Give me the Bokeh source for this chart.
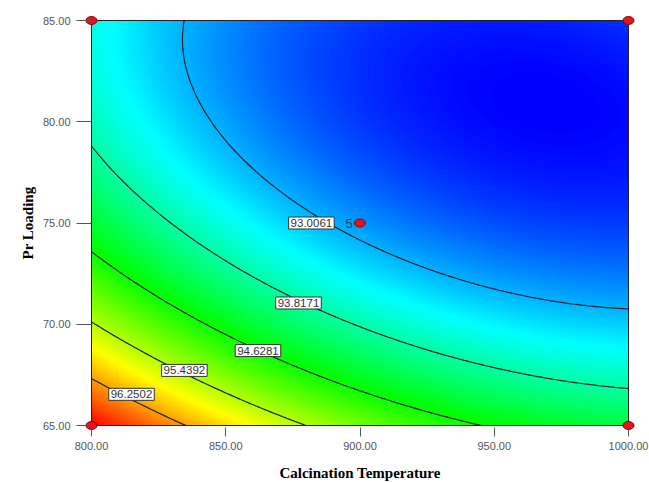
import numpy as np
from bokeh.plotting import figure
from bokeh.models import LinearColorMapper, Label, FixedTicker, NumeralTickFormatter, Range1d
from bokeh.embed import file_html
from bokeh.resources import INLINE

# ---- data ----
levels = [93.0061, 93.8171, 94.6281, 95.4392, 96.2502]

# traced points on each contour (Calcination Temperature, Pr Loading)
c1_x = [838.0, 835.6, 838.0, 842.5, 859.9, 881.9, 909.5, 934.3, 954.2, 1000.0]
c1_y = [85.0, 83.37, 80.90, 79.57, 77.10, 75.0, 73.80, 72.32, 71.34, 70.89]
c2_x = [800.0, 822.6, 847.4, 877.1, 897.1, 921.9, 954.2, 1000.0]
c2_y = [78.58, 76.36, 73.97, 71.05, 70.03, 68.87, 67.55, 66.98]
c3_x = [800.0, 822.6, 847.4, 862.0, 884.7, 909.5, 939.3]
c3_y = [73.23, 71.83, 69.69, 68.70, 67.72, 66.57, 65.0]
c4_x = [800.0, 834.6, 847.4, 874.7]
c4_y = [69.85, 67.72, 66.73, 65.0]
c5_x = [800.0, 814.9, 833.8]
c5_y = [67.22, 66.56, 65.0]

label_x = [881.9, 877.1, 862.0, 834.6, 814.9]
label_y = [75.0, 71.05, 68.70, 67.72, 66.54]

design_x = [800, 800, 1000, 1000, 900]
design_y = [65, 85, 65, 85, 75]
center_reps = "5"

x_ticks = [800, 850, 900, 950, 1000]
y_ticks = [65, 70, 75, 80, 85]

# ---- quadratic response-surface fit to the traced contours ----
tr_x = np.concatenate([c1_x, c2_x, c3_x, c4_x, c5_x])
tr_y = np.concatenate([c1_y, c2_y, c3_y, c4_y, c5_y])
tr_z = np.concatenate([[levels[i]] * len(c) for i, c in enumerate([c1_x, c2_x, c3_x, c4_x, c5_x])])
A = (tr_x - 900) / 100.0
B = (tr_y - 75) / 10.0
M = np.column_stack([np.ones_like(A), A, B, A * A, B * B, A * B])
coef, *_ = np.linalg.lstsq(M, tr_z, rcond=None)

xs = np.linspace(800, 1000, 321)
ys = np.linspace(65, 85, 321)
XX, YY = np.meshgrid(xs, ys)
GA = (XX - 900) / 100.0
GB = (YY - 75) / 10.0
Z = coef[0] + coef[1] * GA + coef[2] * GB + coef[3] * GA**2 + coef[4] * GB**2 + coef[5] * GA * GB

# blue -> cyan -> green -> yellow -> red palette
stops = np.array([[0, 0, 255], [0, 255, 255], [0, 255, 0], [255, 255, 0], [255, 0, 0]], dtype=float)
palette = []
for t in np.linspace(0, 1, 256):
    s = t * 4
    i = min(int(s), 3)
    f = s - i
    c = stops[i] * (1 - f) + stops[i + 1] * f
    palette.append("#%02x%02x%02x" % tuple(int(round(v)) for v in c))
mapper = LinearColorMapper(palette=palette, low=float(Z.min()), high=float(Z.max()))

pad = 8
dx = pad * 200 / 537
dy = pad * 20 / 405

p = figure(
    frame_width=537 + 2 * pad, frame_height=405 + 2 * pad,
    x_range=Range1d(800 - dx, 1000 + dx), y_range=Range1d(65 - dy, 85 + dy),
    output_backend="svg", toolbar_location=None,
    min_border_left=83, min_border_top=12, min_border_right=13, min_border_bottom=50,
)
p.background_fill_color = "white"
p.border_fill_color = "white"
p.outline_line_color = None
p.xgrid.visible = False
p.ygrid.visible = False

p.image(image=[Z], x=800, y=65, dw=200, dh=20, color_mapper=mapper)
p.contour(xs, ys, Z, levels=levels, line_color="#18222c", line_width=1.2)
p.quad(left=[800], right=[1000], bottom=[65], top=[85], fill_color=None, line_color="#222222", line_width=1)

for lx, ly, lev in zip(label_x, label_y, levels):
    p.add_layout(Label(
        x=lx, y=ly, text=f"{lev:.4f}", text_align="center", text_baseline="middle",
        text_font="Liberation Sans", text_font_size="11.5px", text_color="#333333",
        background_fill_color="white", border_line_color="#333333", border_line_width=1,
        padding=2,
    ))

p.ellipse(x=design_x, y=design_y, width=11, height=8, width_units="screen", height_units="screen",
          fill_color="#e8121c", line_color="#8a0000", line_width=1)
p.add_layout(Label(x=900, y=75, x_offset=-11, text=center_reps, text_align="center", text_baseline="middle",
                   text_font="Liberation Sans", text_font_size="13px", text_color="#2b3d5c"))

for ax in (p.xaxis[0], p.yaxis[0]):
    ax.axis_line_color = None
    ax.minor_tick_line_color = None
    ax.major_tick_line_color = "#555555"
    ax.major_label_text_font = "Liberation Sans"
    ax.major_label_text_font_size = "11px"
    ax.major_label_text_color = "#555555"
    ax.formatter = NumeralTickFormatter(format="0.00")
    ax.axis_label_text_font = "Liberation Serif"
    ax.axis_label_text_font_style = "bold"
    ax.axis_label_text_font_size = "15px"
    ax.axis_label_text_color = "black"

p.xaxis.ticker = FixedTicker(ticks=x_ticks)
p.yaxis.ticker = FixedTicker(ticks=y_ticks)
p.xaxis.axis_label = "Calcination Temperature"
p.yaxis.axis_label = "Pr Loading"
p.xaxis.major_tick_in = 6
p.xaxis.major_tick_out = 3
p.xaxis.major_label_standoff = 5
p.xaxis.axis_label_standoff = 12
p.yaxis.major_tick_in = 8
p.yaxis.major_tick_out = 7
p.yaxis.major_label_standoff = 6
p.yaxis.axis_label_standoff = 4

open("out.html", "w").write(file_html(p, INLINE))
